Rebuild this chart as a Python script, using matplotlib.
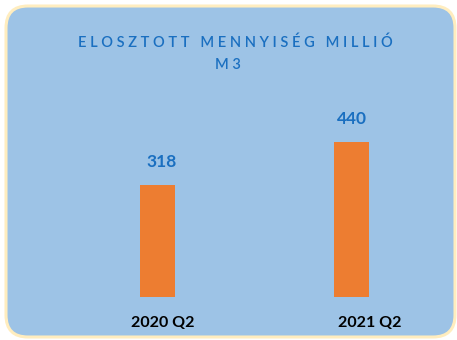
import matplotlib
matplotlib.use("Agg")
import matplotlib.pyplot as plt
from matplotlib.patches import FancyBboxPatch
from matplotlib.transforms import IdentityTransform, ScaledTranslation

categories = ["2020 Q2", "2021 Q2"]
values = [318, 440]
title_words = ["ELOSZTOTT", "MENNYISÉG", "MILLIÓ"]
title_unit = "M3"

panel_color = "#9DC3E6"
border_color = "#FFEDBF"
bar_color = "#ED7D31"
label_blue = "#1A6FC0"

plt.rcParams["font.family"] = ["Lato", "DejaVu Sans"]

W, H = 457, 340
fig = plt.figure(figsize=(W / 100, H / 100), dpi=100)
fig.patch.set_facecolor("white")

# rounded background panel, drawn in pixel coordinates
panel = FancyBboxPatch((6, 3), 449, 331, boxstyle="round,pad=0,rounding_size=22",
                       facecolor=panel_color, edgecolor=border_color, linewidth=2.2,
                       transform=IdentityTransform(), zorder=-5)
fig.patches.append(panel)

def spaced(s):
    return " ".join(s)

line1 = "   ".join(spaced(w) for w in title_words)
fig.text(235 / W, 1 - 43 / H, line1, ha="center", va="center",
         color=label_blue, fontsize=10.5, fontweight="semibold")
fig.text(228 / W, 1 - 65 / H, spaced(title_unit), ha="center", va="center",
         color=label_blue, fontsize=10.5, fontweight="semibold")

# axes placed so the bars sit on the baseline of the panel
ax = fig.add_axes([60 / W, (H - 297) / H, 390 / W, 197 / H])
ax.set_facecolor("none")
ax.set_zorder(2)
x = list(range(len(categories)))
ax.bar(x, values, width=0.18, color=bar_color)
ax.set_xlim(-0.501, 1.504)
ax.set_ylim(0, 560)
for s in ax.spines.values():
    s.set_visible(False)
ax.set_yticks([])
ax.set_xticks(x)
ax.set_xticklabels(categories, fontsize=11.5, fontweight="bold", color="black")
ax.tick_params(axis="x", length=0, pad=14)
for lbl, dx in zip(ax.get_xticklabels(), [5, 18]):
    lbl.set_transform(lbl.get_transform() + ScaledTranslation(dx / 100, 0, fig.dpi_scale_trans))

for xi, v, dx in zip(x, values, [3, 0]):
    ax.annotate(str(v), (xi, v), xytext=(dx, 11), textcoords="offset points",
                ha="center", va="bottom", fontsize=12.5, fontweight="bold",
                color=label_blue)

fig.savefig("out.png", dpi=100, facecolor=fig.get_facecolor())
